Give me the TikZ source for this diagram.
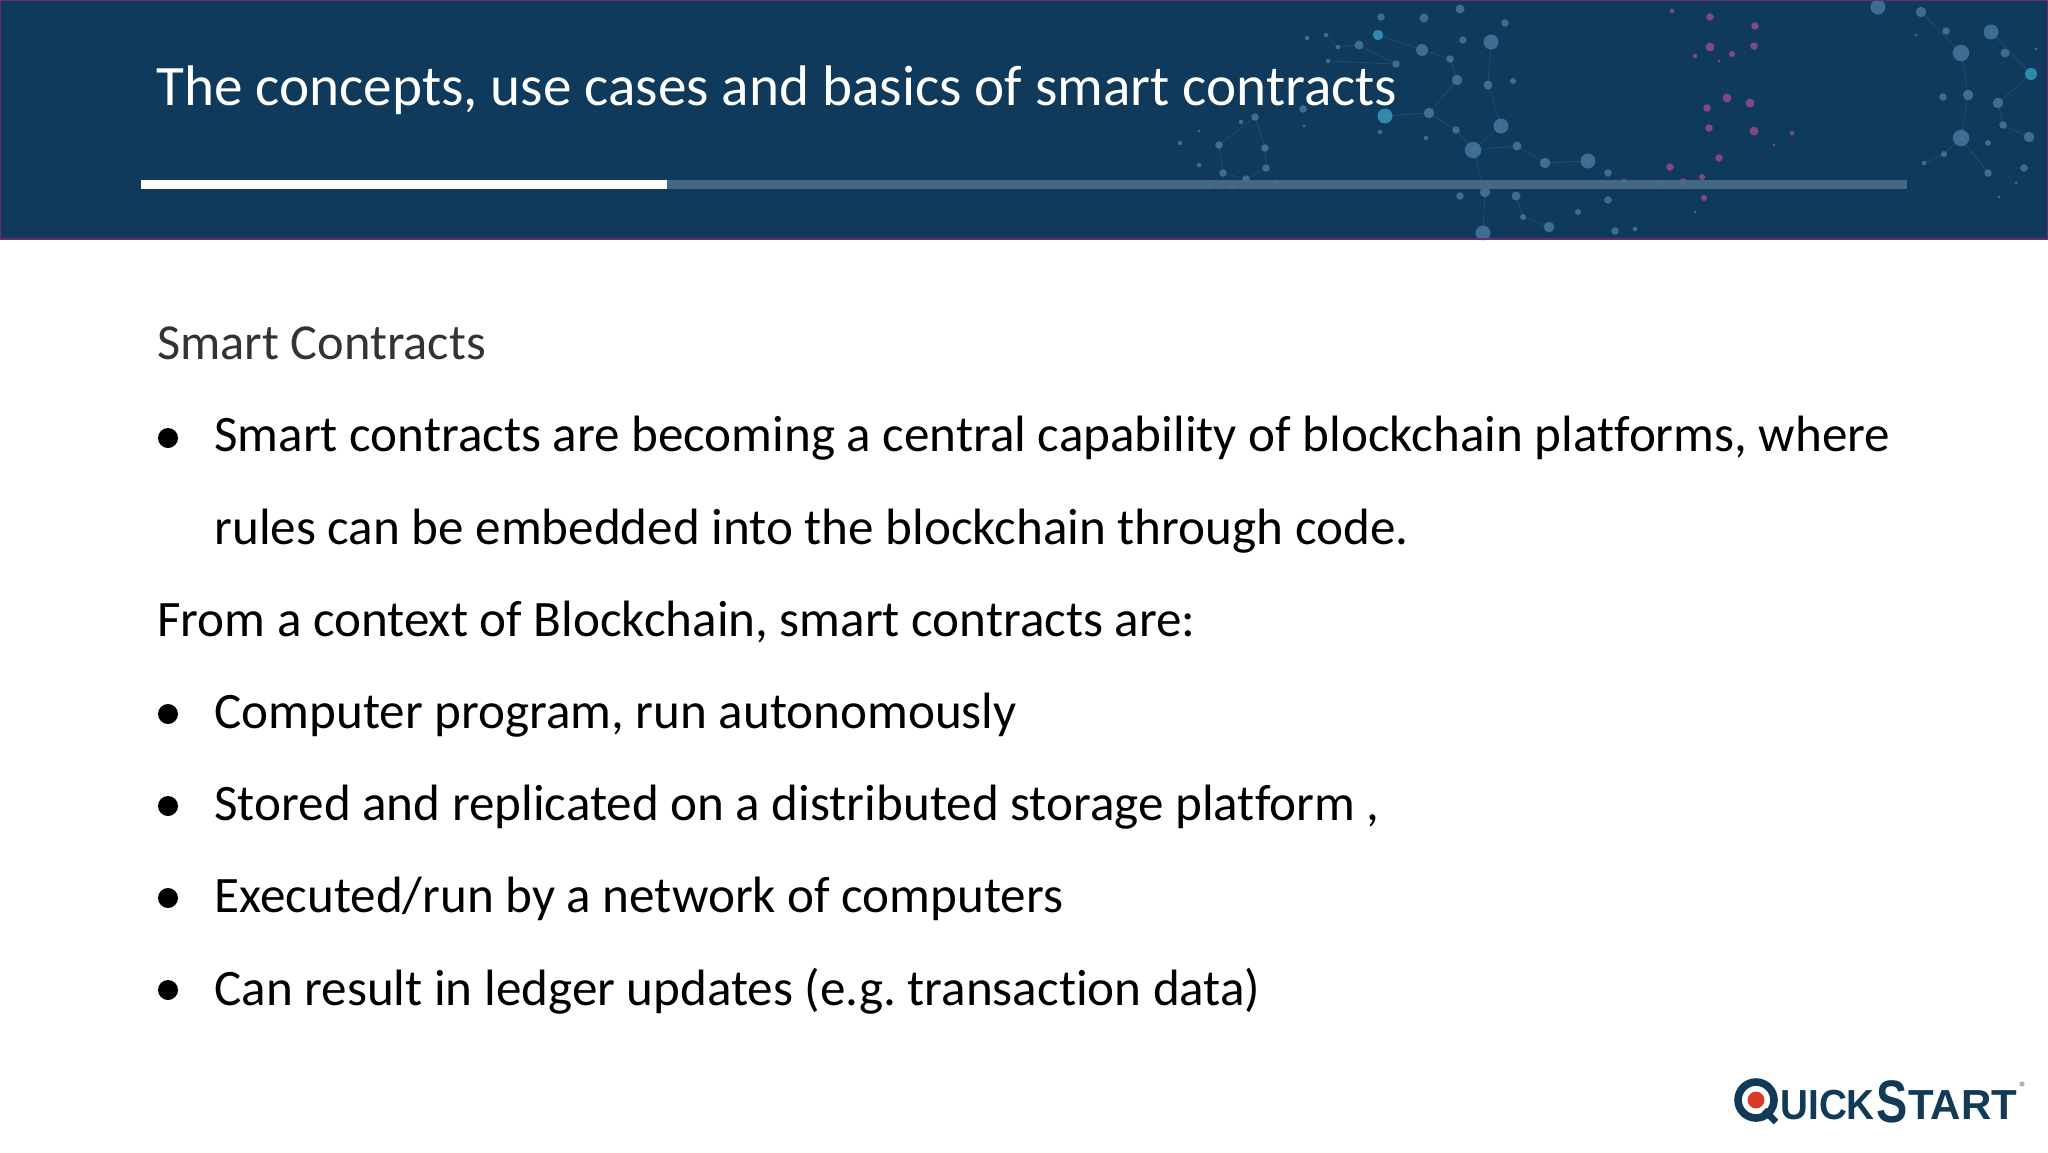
\documentclass[tikz,border=0pt]{standalone}
\usepackage{xcolor}
\usepackage{fontspec}
\setmainfont[Ligatures={TeX,CommonOff}]{Carlito}
\newfontfamily\logofont{Liberation Sans}
\frenchspacing
\usetikzlibrary{calc}
\definecolor{banner}{HTML}{0F3A5B}
\definecolor{bannerline}{HTML}{6A2C6C}
\definecolor{dotblue}{HTML}{5C8FB8}
\definecolor{dotteal}{HTML}{3A9CC0}
\definecolor{dotpink}{HTML}{B0508F}
\definecolor{progress}{HTML}{4A6D88}
\definecolor{logoblue}{HTML}{123A56}
\definecolor{logored}{HTML}{DD3A26}

\begin{document}
\begin{tikzpicture}[
    x=0.5pt, y=-0.5pt,
    % styles
    dot/.style={fill=dotblue, opacity=0.6},
    tealdot/.style={fill=dotteal, opacity=0.8},
    pinkdot/.style={fill=dotpink, opacity=0.7},
    faint/.style={line width=0.3pt, dotblue, opacity=0.25},
    titletext/.style={anchor=base west, inner sep=0, white, font=\fontsize{28.6}{30}\selectfont},
    headtext/.style={anchor=base west, inner sep=0, black!80, font=\fontsize{25.2}{26}\selectfont},
    bodytext/.style={anchor=base west, inner sep=0, black, font=\fontsize{25.55}{26}\selectfont},
    logotext/.style={anchor=base west, inner sep=0, logoblue, font=\logofont\bfseries\fontsize{21}{22}\selectfont}]

    \useasboundingbox (0, 0) rectangle (2048, 1152);
    \fill [white] (0, 0) rectangle (2048, 1152);

    % banner
    \fill [banner] (0, 0) rectangle (2048, 239);

    % network lines
    \draw [faint] (1491, 42) -- (1488, 85) -- (1501, 126) -- (1473, 150) -- (1517, 146) -- (1545, 163) -- (1588, 161);
    \draw [faint] (1378, 35) -- (1422, 50) -- (1450, 59) -- (1457, 80) -- (1429, 113) -- (1385, 116);
    \draw [faint] (1429, 113) -- (1456, 130) -- (1473, 150) -- (1485, 192) -- (1483, 233);
    \draw [faint] (1326, 35) -- (1338, 47) -- (1359, 45) -- (1396, 64) -- (1328, 61);
    \draw [faint] (1255, 117) -- (1219, 145) -- (1223, 173) -- (1246, 179) -- (1266, 168) -- (1265, 148) -- (1255, 117);
    \draw [faint] (1921, 12) -- (1961, 53) -- (1968, 95) -- (1961, 138) -- (1988, 173);
    \draw [faint] (1991, 32) -- (2031, 74) -- (1998, 103) -- (2003, 125) -- (2029, 137);
    \draw [faint] (1516, 196) -- (1523, 217) -- (1549, 227);
    \draw [faint] (1924, 163) -- (1944, 154) -- (1961, 138);

    % network dots
    \foreach \x/\y/\r in {
      1491/42/5, 1422/50/4, 1359/45/3, 1381/17/2.5, 1424/18/3, 1460/9/3, 1505/23/2.5,
      1463/40/2.5, 1450/59/2.5, 1396/64/2.5, 1338/47/1.5, 1326/35/1.5, 1307/38/1.5,
      1328/61/1.5, 1457/80/3.5, 1488/85/3, 1513/81/2, 1429/113/3.5, 1456/130/2.5,
      1501/126/5, 1426/138/1.5, 1380/132/1.5, 1303/109/2.5, 1255/117/2.5, 1241/122/1.5,
      1304/126/1, 1219/145/2.5, 1265/148/2.5, 1180/143/1.5, 1199/131/1, 1266/168/2.5,
      1223/173/2.5, 1246/179/2.5, 1199/165/1.5, 1275/182/1.5, 1232/187/1.5, 1209/185/1.5,
      1473/150/5.5, 1517/146/3, 1545/163/3.5, 1588/161/5, 1608/173/2.5, 1624/182/2,
      1658/184/1.5, 1485/192/3.5, 1516/196/3, 1460/196/2.5, 1523/217/2, 1549/227/3.5,
      1483/233/5, 1608/200/2.5, 1578/212/2, 1615/231/2.5, 1635/229/1.5,
      1878/7/5, 1921/12/3.5, 1991/32/5, 1946/31/2.5, 1916/35/1, 1961/53/5.5, 2005/53/3,
      1968/95/3.5, 1943/97/2.5, 1998/103/3.5, 2003/125/2.5, 1961/138/5.5, 1988/143/2,
      2029/137/3.5, 1944/154/2, 1924/163/1.5, 1988/173/2.5, 2024/168/2.5, 2016/183/1,
      1999/197/1, 2036/49/1
    } {
      \fill [dot] (\x, \y) circle (\r*0.75pt);
    }
    \foreach \x/\y/\r in {1378/35/3.5, 1385/116/5, 2031/74/4} {
      \fill [tealdot] (\x, \y) circle (\r*0.75pt);
    }
    \foreach \x/\y/\r in {
      1710/17/2.5, 1755/26/2.5, 1710/47/3, 1754/46/2.5, 1732/54/2, 1695/56/1.5, 1719/61/1,
      1672/11/1.5, 1727/98/3, 1750/103/3, 1707/108/2.5, 1709/128/2.5, 1754/131/3,
      1792/133/1.5, 1774/145/1, 1670/167/2.5, 1719/158/2.5, 1683/182/2.5, 1702/177/2,
      1704/198/2, 1695/212/1
    } {
      \fill [pinkdot] (\x, \y) circle (\r*0.75pt);
    }

    % banner edges
    \draw [bannerline, line width=1pt] (0, 239) -- (0, 0) -- (2048, 0) -- (2048, 239) -- cycle;

    % progress bar
    \fill [progress, opacity=0.9] (667, 180) rectangle (1907, 189);
    \fill [white] (141, 180) rectangle (667, 189);

    % title and heading
    \node [titletext] (title) at (156, 105) {The concepts, use cases and basics of smart contracts};
    \node [headtext] (heading) at (157, 359) {Smart Contracts};

    % body lines
    \node [bodytext] (intro) at (214, 451)
      {Smart contracts are becoming a central capability of blockchain platforms, where};
    \node [bodytext] (introcont) at (214, 544) {rules can be embedded into the blockchain through code.};
    \node [bodytext] (context) at (157, 636) {From a context of Blockchain, smart contracts are:};
    \foreach \y/\name/\str in {
      728/program/{Computer program, run autonomously},
      820/stored/{Stored and replicated on a distributed storage platform ,},
      912/executed/{Executed/run by a network of computers},
      1005/ledger/{Can result in ledger updates (e.g. transaction data)}
    } {
      \node [bodytext] (\name) at (214, \y) {\str};
    }

    % bullets
    \foreach \y in {438, 714, 806, 898, 990} {
      \fill (168, \y) circle (5pt);
    }

    % logo
    \draw [logoblue, line width=3.8pt] (1756, 1100) circle (18);
    \draw [logoblue, line width=3.2pt] (1764, 1110) -- (1776, 1122);
    \fill [logored] (1756, 1100) circle (4.2pt);
    \node [logotext, xscale=0.92] (logouick) at (1780, 1119) {UICK};
    \node [logotext, xscale=0.78, font=\logofont\bfseries\fontsize{30}{31}\selectfont] (logos) at (1876, 1122) {S};
    \node [logotext] (logotart) at (1908, 1119) {TART};
    \fill [black!30] (2022, 1084) circle (1.3pt);

\end{tikzpicture}
\end{document}
